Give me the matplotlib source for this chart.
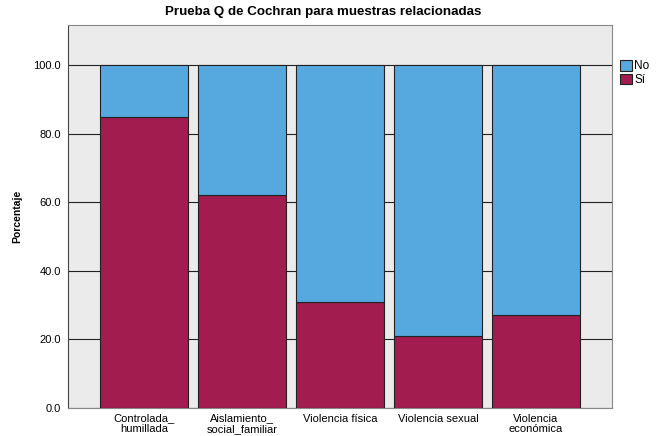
import matplotlib
matplotlib.use("Agg")
import matplotlib.pyplot as plt
import numpy as np

plt.rcParams["font.family"] = ["Liberation Sans", "DejaVu Sans"]

categories = ["Controlada_\nhumillada", "Aislamiento_\nsocial_familiar", "Violencia física",
              "Violencia sexual", "Violencia\neconómica"]
si_pct = [85.0, 62.0, 31.0, 21.0, 27.0]
no_pct = [15.0, 38.0, 69.0, 79.0, 73.0]
yticks = [0, 20, 40, 60, 80, 100]

col_no = "#56A9DE"
col_si = "#A21C4F"

fig = plt.figure(figsize=(6.56, 4.36), dpi=100)
ax = fig.add_axes([68/656, 1 - 408/436, (612-68)/656, (408-25)/436])
ax.set_facecolor("#EBEBEB")

x = np.arange(len(categories))
ax.bar(x, si_pct, width=0.9, color=col_si, edgecolor="#222222", linewidth=0.8, zorder=3, label="Sí")
ax.bar(x, no_pct, bottom=si_pct, width=0.9, color=col_no, edgecolor="#222222", linewidth=0.8, zorder=3, label="No")

for t in yticks:
    ax.axhline(t, color="#222222", linewidth=0.8, zorder=1)

ax.set_xlim(-0.776, 4.776)
ax.set_ylim(0, 111.7)
ax.set_yticks(yticks)
ax.set_yticklabels([f"{t:.1f}" for t in yticks], fontsize=8)
ax.set_xticks(x)
ax.set_xticklabels(categories, fontsize=8, linespacing=1.1)
ax.tick_params(axis="x", length=0, pad=4)
ax.tick_params(axis="y", length=0, pad=5)
for s in ax.spines.values():
    s.set_color("#888888")
    s.set_linewidth(0.8)
ax.spines["left"].set_color("#444444")

ax.set_ylabel("Porcentaje", fontsize=7.5, fontweight="bold")
ax.yaxis.set_label_coords(-0.085, 0.5)

handles, labels = ax.get_legend_handles_labels()
ax.legend(handles[::-1], labels[::-1], loc="upper left", bbox_to_anchor=(1.0, 0.93),
          frameon=False, fontsize=8.5, handlelength=1.0, handleheight=1.0,
          handletextpad=0.2, labelspacing=0.1, borderaxespad=0.3)

fig.text(0.492, 0.972, "Prueba Q de Cochran para muestras relacionadas", ha="center",
         va="center", fontsize=9.6, fontweight="bold")

fig.savefig("out.png", dpi=100)
